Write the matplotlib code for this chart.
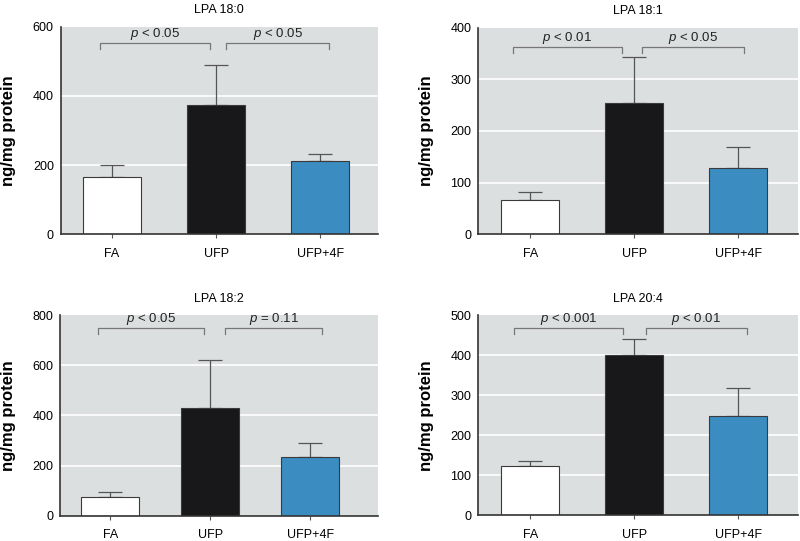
import matplotlib
matplotlib.use("Agg")
import matplotlib.pyplot as plt

FONT = "Liberation Sans"
plt.rcParams['font.family'] = [FONT, 'DejaVu Sans']
plt.rcParams['mathtext.fontset'] = 'custom'
plt.rcParams['mathtext.rm'] = FONT
plt.rcParams['mathtext.it'] = FONT + ':italic'

groups = ["FA", "UFP", "UFP+4F"]
titles = ["LPA 18:0", "LPA 18:1", "LPA 18:2", "LPA 20:4"]
means_180 = [165, 373, 213]
err_180 = [35, 117, 19]
means_181 = [66, 255, 129]
err_181 = [15, 89, 40]
means_182 = [73, 429, 236]
err_182 = [20, 194, 53]
means_204 = [122, 401, 247]
err_204 = [14, 40, 70]
ymax = [600, 400, 800, 500]
yticks = [[0, 200, 400, 600], [0, 100, 200, 300, 400], [0, 200, 400, 600, 800], [0, 100, 200, 300, 400, 500]]
pvals_left = ["< 0.05", "< 0.01", "< 0.05", "< 0.001"]
pvals_right = ["< 0.05", "< 0.05", "= 0.11", "< 0.01"]
bracket_y = [552, 363, 749, 469]

means = [means_180, means_181, means_182, means_204]
errs = [err_180, err_181, err_182, err_204]

colors = ["#ffffff", "#18181a", "#3b8cc1"]
bg = "#dcdfe0"

fig = plt.figure(figsize=(8, 5.41), dpi=100)
rects = [
    [0.076, 0.567, 0.396, 0.384],
    [0.598, 0.567, 0.399, 0.382],
    [0.0754, 0.047, 0.3975, 0.370],
    [0.598, 0.048, 0.399, 0.369],
]
xlims = [(-0.49, 2.55), (-0.50, 2.57), (-0.50, 2.68), (-0.50, 2.57)]
brk = [
    [(-0.11, 0.94), (1.10, 2.08)],
    [(-0.17, 0.88), (1.07, 2.05)],
    [(-0.12, 0.935), (1.15, 2.12)],
    [(-0.16, 0.89), (1.11, 2.08)],
]
bw = [0.56, 0.56, 0.577, 0.56]

for i in range(4):
    ax = fig.add_axes(rects[i])
    ax.set_facecolor(bg)
    x = list(range(3))
    ax.set_ylim(0, ymax[i])
    ax.set_xlim(*xlims[i])
    for t in yticks[i][1:-1]:
        ax.axhline(t, color="white", lw=1.2, zorder=0.5)
    ax.errorbar(x, means[i], yerr=[[0, 0, 0], errs[i]], fmt="none",
                ecolor="#555555", elinewidth=0.9, capsize=8.5, capthick=0.9, zorder=1)
    ax.bar(x, means[i], width=bw[i], color=colors, edgecolor="#3a3a3a", linewidth=0.8, zorder=2)
    ax.set_xticks(x)
    ax.set_xticklabels(groups, fontsize=9)
    ax.set_yticks(yticks[i])
    ax.set_yticklabels([str(t) for t in yticks[i]], fontsize=9)
    ax.tick_params(axis="y", length=0, pad=5)
    ax.tick_params(axis="x", length=3, width=0.8, color="#555555", pad=7)
    for s in ["top", "right"]:
        ax.spines[s].set_visible(False)
    for s in ["left", "bottom"]:
        ax.spines[s].set_color("#333333")
        ax.spines[s].set_linewidth(1.2)
    ax.set_ylabel("ng/mg protein", fontsize=12, fontweight="bold", labelpad=12)
    ax.set_title(titles[i], fontsize=9, pad=10)
    by = bracket_y[i]
    tick = ymax[i] * 0.03
    for (x0, x1), lab in zip(brk[i], [pvals_left[i], pvals_right[i]]):
        ax.plot([x0, x0, x1, x1], [by - tick, by, by, by - tick], color="#777777", lw=0.9,
                clip_on=False, zorder=3)
        ax.text((x0 + x1) / 2, by + ymax[i] * 0.03, r"$\it{p}$ " + lab, ha="center", va="baseline",
                fontsize=9.5, color="#222222")

fig.savefig("out.png", dpi=100)
